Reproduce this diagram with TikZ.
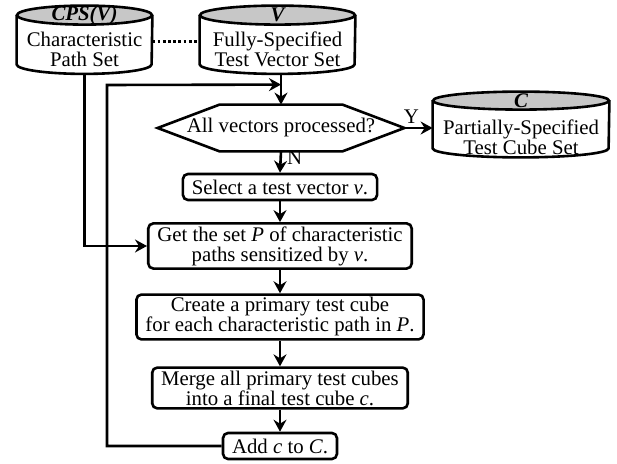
\documentclass[tikz,border=0pt]{standalone}
\usepackage{fontspec}
\setmainfont{Liberation Serif}
\usetikzlibrary{arrows.meta,calc}

% cylinder drawn round a body node: name, x radius, y radius
\newcommand\drawstore[3]{%
  \draw[line width=1.3pt, fill=white] (#1.north west) -- (#1.south west)
    arc[start angle=180, end angle=360, x radius=#2, y radius=#3] -- (#1.north east);
  \draw[line width=1.3pt, fill=black!22] (#1.north) ellipse[x radius=#2, y radius=#3];
}

\begin{document}
\begin{tikzpicture}[x=0.5pt,y=-0.5pt,
  every node/.style={font=\fontsize{10.4}{10}\selectfont},
  store/.style={rectangle, inner sep=0pt},
  storehead/.style={font=\fontsize{10.4}{10}\selectfont\bfseries\itshape, inner sep=0pt},
  storetext/.style={align=center, inner sep=0pt},
  stepbox/.style={draw, line width=1.3pt, rounded corners=2.5pt, align=center,
    inner xsep=4.5pt, inner ysep=1.5pt, minimum height=13pt},
  decide/.style={rectangle, inner sep=0pt, minimum width=123pt, minimum height=23pt},
  arr/.style={line width=1.3pt, -{Stealth[length=6pt,width=6.5pt,inset=2pt]}},
  link/.style={line width=1.3pt}]
\useasboundingbox (0,0) rectangle (617,464);

% stores
\node[store, minimum width=67.5pt, minimum height=24.25pt] (cps) at (84.5,39.75) {};
\drawstore{cps}{33.75pt}{4.75pt}
\node[storehead] at (cps.north) {CPS(V)};
\node[storetext] at ($(cps.center)+(0,10)$) {Characteristic\\Path Set};

\node[store, minimum width=77.5pt, minimum height=24.25pt] (vec) at (277.5,39.75) {};
\drawstore{vec}{38.75pt}{4.75pt}
\node[storehead] at (vec.north) {V};
\node[storetext] at ($(vec.center)+(0,10)$) {Fully-Specified\\Test Vector Set};

\node[store, minimum width=88pt, minimum height=23.5pt] (cube) at (521,124.5) {};
\drawstore{cube}{44pt}{4.5pt}
\node[storehead] at (cube.north) {C};
\node[storetext] at ($(cube.center)+(0,12.5)$) {Partially-Specified\\Test Cube Set};

% flow
\node[decide] (hex) at (281,128) {All vectors processed?};
\draw[link] (hex.west) -- ([xshift=31pt]hex.north west) -- ([xshift=-31pt]hex.north east)
  -- (hex.east) -- ([xshift=-31pt]hex.south east) -- ([xshift=31pt]hex.south west) -- cycle;
\node[stepbox] (sel) at (280,187) {Select a test vector \textit{v}.};
\node[stepbox] (get) at (280,246) {Get the set \textit{P} of characteristic\\paths sensitized by \textit{v}.};
\node[stepbox] (make) at (280,317) {Create a primary test cube\\for each characteristic path in \textit{P}.};
\node[stepbox] (merge) at (280,388) {Merge all primary test cubes\\into a final test cube \textit{c}.};
\node[stepbox] (add) at (280,446) {Add \textit{c} to \textit{C}.};

\coordinate (cpsbot) at ($(cps.south)+(0,9)$);
\coordinate (vecbot) at ($(vec.south)+(0,9)$);
\coordinate (join) at ($(hex.north)+(0,-20)$);
\coordinate (back) at (107,85);

\draw[link, dash pattern=on 1.4pt off 1.2pt] ([yshift=-1pt]cps.east) -- ([yshift=-1pt]vec.west);
\draw[arr] (hex.north |- vecbot) -- (hex.north);
\draw[arr] (add.west) -| (back) -- (join);
\draw[arr] (cpsbot) |- (get.west);
\draw[arr] (hex.east) -- node[above, pos=0.25, inner sep=1.5pt] {Y} (cube.west |- hex.east);
\draw[arr] (hex.south) -- node[right, pos=0.3, inner sep=2.5pt] {N} (sel.north);
\draw[arr] (sel) -- (get);
\draw[arr] (get) -- (make);
\draw[arr] (make) -- (merge);
\draw[arr] (merge) -- (add);
\end{tikzpicture}
\end{document}
